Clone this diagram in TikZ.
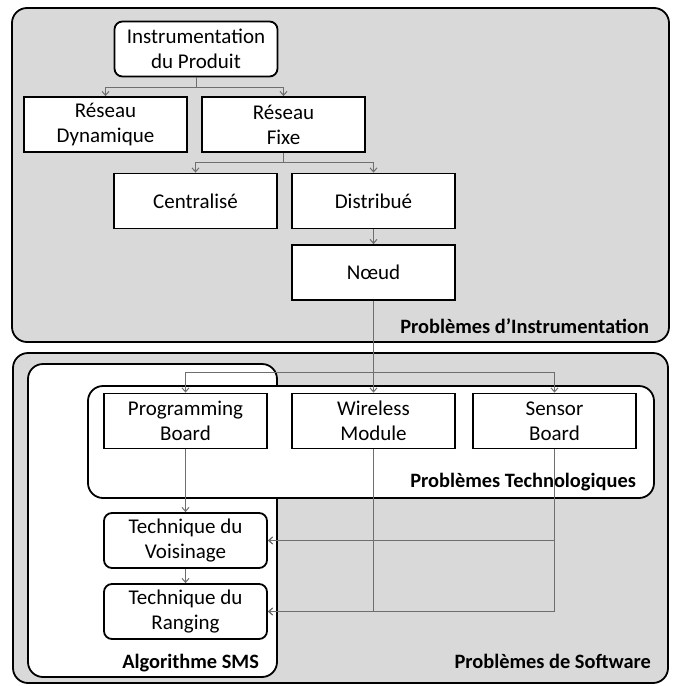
\documentclass[tikz,border=0pt]{standalone}
\usepackage{fontspec}
\setmainfont{Carlito}
\usetikzlibrary{arrows.meta}
\definecolor{panelgray}{RGB}{217,217,217}
\definecolor{linkgray}{RGB}{110,110,110}
\begin{document}
\begin{tikzpicture}[x=0.5pt, y=-0.5pt,
    every node/.style={font=\fontsize{10.5}{12.5}\selectfont},
    box/.style={draw, fill=white, line width=0.9pt, minimum width=81.5pt, minimum height=27.5pt, align=center, inner sep=0pt},
    rbox/.style={box, rounded corners=4pt},
    panel/.style={draw, line width=0.9pt, rounded corners=7.5pt},
    title/.style={font=\fontsize{10.2}{12}\selectfont\bfseries, anchor=base east},
    link/.style={draw=linkgray, line width=0.5pt, -{Straight Barb[length=2pt,width=3.5pt]}}]
    \useasboundingbox (0,0) rectangle (676,686);
    \draw[panel, fill=panelgray] (12,8) rectangle (669,342);
    \draw[panel, fill=panelgray] (13,353) rectangle (668,683);
    \draw[panel, fill=white] (28,364) rectangle (277,677);
    \draw[panel, fill=white] (88,386) rectangle (654,498);

    \node[title] (instlabel) at (656,333) {Problèmes d’Instrumentation};
    \node[title] (swlabel) at (658,668) {Problèmes de Software};
    \node[title] (algolabel) at (266,668) {Algorithme SMS};
    \node[title] (techlabel) at (643,487) {Problèmes Technologiques};

    \node[rbox] (instr) at (196,49) {Instrumentation\\du Produit};
    \node[box] (dyn) at (105.5,124.5) {Réseau\\Dynamique};
    \node[box] (fixe) at (283.5,124.5) {Réseau\\Fixe};
    \node[box] (central) at (195.5,201) {Centralisé};
    \node[box] (distrib) at (373.5,201) {Distribué};
    \node[box] (noeud) at (373.5,272.5) {Nœud};
    \node[box] (prog) at (185.5,421) {Programming\\Board};
    \node[box] (wire) at (373.5,421) {Wireless\\Module};
    \node[box] (sensor) at (554.5,421) {Sensor\\Board};
    \node[rbox] (vois) at (185.5,540.5) {Technique du\\Voisinage};
    \node[rbox] (rang) at (185.5,611.5) {Technique du\\Ranging};

    \draw[link] (instr.south) -- ++(0,10) -| (dyn.north);
    \draw[link] (instr.south) -- ++(0,10) -| (fixe.north);
    \draw[link] (fixe.south) -- ++(0,10) -| (central.north);
    \draw[link] (fixe.south) -- ++(0,10) -| (distrib.north);
    \draw[link] (distrib.south) -- (noeud.north);
    \coordinate (split) at (373.5,372);
    \draw[link] (noeud.south) -- (wire.north);
    \draw[link] (noeud.south) -- (split) -| (prog.north);
    \draw[link] (noeud.south) -- (split) -| (sensor.north);
    \draw[link] (prog.south) -- (vois.north);
    \draw[link] (vois.south) -- (rang.north);
    \draw[link] (wire.south) |- (vois.east);
    \draw[link] (sensor.south) |- (vois.east);
    \draw[link] (wire.south) |- (rang.east);
    \draw[link] (sensor.south) |- (rang.east);
\end{tikzpicture}
\end{document}
